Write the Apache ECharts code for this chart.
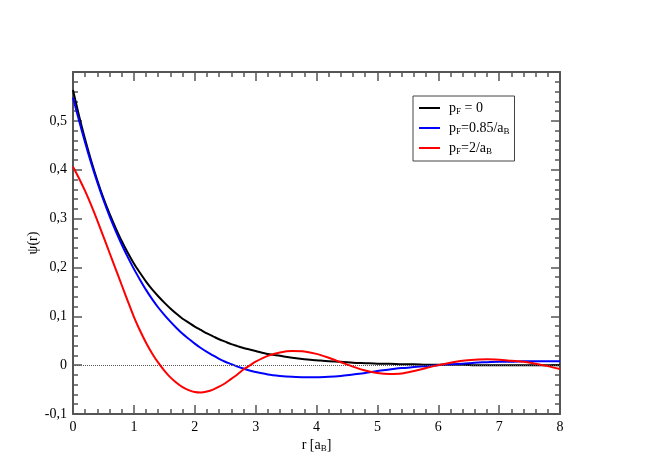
<!DOCTYPE html>
<html lang="en">
<head>
<meta charset="UTF-8">
<title>psi(r)</title>
<script src="https://cdn.jsdelivr.net/npm/echarts@6/dist/echarts.min.js"></script>
<style>
body{ margin:0; background:#fff; }
#chart{ width:670px; height:474px; }
</style>
</head>
<body>
<div id="chart"></div>
<script>
// r grid [a_B]: finer where the curves bend most
var rValues = [0,0.1,0.2,0.3,0.4,0.5,0.6,0.7,0.8,0.9,1.0,1.1,1.2,1.3,1.4,1.5,1.6,1.7,1.8,1.9,2.0,
               2.1,2.2,2.3,2.4,2.5,2.6,2.7,2.8,2.9,3.0,3.2,3.4,3.6,3.8,4.0,
               4.2,4.4,4.6,4.8,5.0,5.2,5.4,5.6,5.8,6.0,6.2,6.4,6.6,6.8,7.0,7.2,7.4,7.6,7.8,8.0];

// pF = 0
var psiBlack = [0.563,0.510,0.462,0.418,0.378,0.342,0.310,0.281,0.254,0.230,0.208,0.189,0.171,0.155,0.141,0.128,0.116,0.105,0.095,0.087,0.079,
                0.072,0.065,0.059,0.053,0.048,0.043,0.039,0.035,0.032,0.029,0.023,0.019,0.015,0.012,0.010,
                0.008,0.007,0.005,0.004,0.003,0.003,0.002,0.002,0.001,0.001,0.001,0.001,0.000,0.000,0.000,0.000,0.000,0.000,0.000,0.000];
// pF = 0.85/aB
var psiBlue = [0.548,0.500,0.455,0.413,0.374,0.338,0.305,0.275,0.247,0.221,0.197,0.175,0.154,0.135,0.118,0.103,0.089,0.076,0.064,0.054,0.044,
               0.035,0.027,0.020,0.013,0.007,0.002,-0.003,-0.007,-0.011,-0.014,-0.019,-0.022,-0.024,-0.025,-0.025,
               -0.024,-0.022,-0.019,-0.016,-0.012,-0.009,-0.006,-0.004,-0.002,0.000,0.002,0.003,0.005,0.006,0.007,0.007,0.008,0.008,0.008,0.008];
// pF = 2/aB
var psiRed = [0.406,0.382,0.356,0.327,0.296,0.263,0.230,0.197,0.164,0.131,0.099,0.071,0.046,0.024,0.005,-0.011,-0.025,-0.036,-0.045,-0.051,-0.055,
              -0.056,-0.054,-0.050,-0.044,-0.037,-0.028,-0.019,-0.009,-0.001,0.007,0.019,0.026,0.029,0.028,0.023,
              0.015,0.006,-0.003,-0.011,-0.016,-0.018,-0.017,-0.012,-0.006,0.000,0.005,0.009,0.011,0.012,0.011,0.009,0.007,0.003,-0.002,-0.008];

var seriesNames = ['pF = 0', 'pF = 0.85/aB', 'pF = 2/aB'];
var legendLabels = ['p{sub|F} = 0', 'p{sub|F}=0.85/a{sub|B}', 'p{sub|F}=2/a{sub|B}'];
var seriesData = [psiBlack, psiBlue, psiRed];
var colors = ['#000000', '#0000ff', '#ff0000'];

var serif = 'Liberation Serif';
var axisColor = '#555';
var subStyle = { fontFamily: serif, fontSize: 9, verticalAlign: 'bottom', padding: [7, 0, 0, 0], color: '#000' };

function pairs(xs, ys){
    return xs.map(function(x, i){ return [x, ys[i]]; });
}

function frameAxis(extra){
    var a = {
        type: 'value',
        axisLine: { show: true, onZero: false, lineStyle: { color: axisColor, width: 2 } },
        axisTick: { show: true, inside: true, length: 9, lineStyle: { color: axisColor, width: 1.5 } },
        minorTick: { show: true, splitNumber: 5, length: 5, lineStyle: { color: axisColor, width: 1.5 } },
        splitLine: { show: false },
        axisLabel: { show: false }
    };
    for (var k in extra) a[k] = extra[k];
    return a;
}

var series = seriesNames.map(function(name, i){
    var s = {
        name: name,
        type: 'line',
        xAxisIndex: 0,
        yAxisIndex: 0,
        data: pairs(rValues, seriesData[i]),
        showSymbol: false,
        smooth: 0.3,
        lineStyle: { color: colors[i], width: 2 },
        itemStyle: { color: colors[i] },
        z: 3 + i
    };
    if (i == 0) {
        // dotted zero line
        s.markLine = {
            silent: true,
            symbol: 'none',
            label: { show: false },
            lineStyle: { type: 'dotted', color: '#555', width: 1 },
            data: [{ yAxis: 0 }]
        };
    }
    return s;
});

var option = {
    backgroundColor: '#fff',
    animation: false,
    grid: { left: 73, right: 110, top: 72, bottom: 60 },
    xAxis: [
        frameAxis({
            position: 'bottom', min: 0, max: 8, interval: 1,
            axisLabel: { show: true, margin: 6, color: '#000', fontFamily: serif, fontSize: 14 },
            name: 'r [a{sub|B}]',
            nameLocation: 'middle',
            nameGap: 23,
            nameMoveOverlap: false,
            nameTextStyle: { color: '#000', fontFamily: serif, fontSize: 14, rich: { sub: subStyle } }
        }),
        frameAxis({ position: 'top', min: 0, max: 8, interval: 1 })
    ],
    yAxis: [
        frameAxis({
            position: 'left', min: -0.1, max: 0.6, interval: 0.1,
            axisLabel: {
                show: true, margin: 6, color: '#000', fontFamily: serif, fontSize: 14,
                showMaxLabel: false,
                formatter: function(v){
                    if (Math.abs(v - 0.6) < 1e-9) return '';
                    return String(Math.round(v * 10) / 10).replace('.', ',');
                }
            },
            name: 'ψ(r)',
            nameLocation: 'middle',
            nameGap: 33,
            nameMoveOverlap: false,
            nameTextStyle: { color: '#000', fontFamily: serif, fontSize: 14 }
        }),
        frameAxis({ position: 'right', min: -0.1, max: 0.6, interval: 0.1 })
    ],
    legend: {
        data: seriesNames,
        orient: 'vertical',
        left: 413,
        top: 96,
        padding: [5, 5, 5, 6],
        itemGap: 5,
        itemWidth: 21,
        itemHeight: 2,
        icon: 'rect',
        borderColor: '#444',
        borderWidth: 1,
        backgroundColor: '#fff',
        formatter: function(name){
            return legendLabels[seriesNames.indexOf(name)];
        },
        textStyle: {
            color: '#000', fontFamily: serif, fontSize: 14, padding: [0, 0, 0, 4],
            rich: { sub: subStyle }
        }
    },
    series: series
};

var chart = echarts.init(document.getElementById('chart'));
chart.setOption(option);
</script>
</body>
</html>
